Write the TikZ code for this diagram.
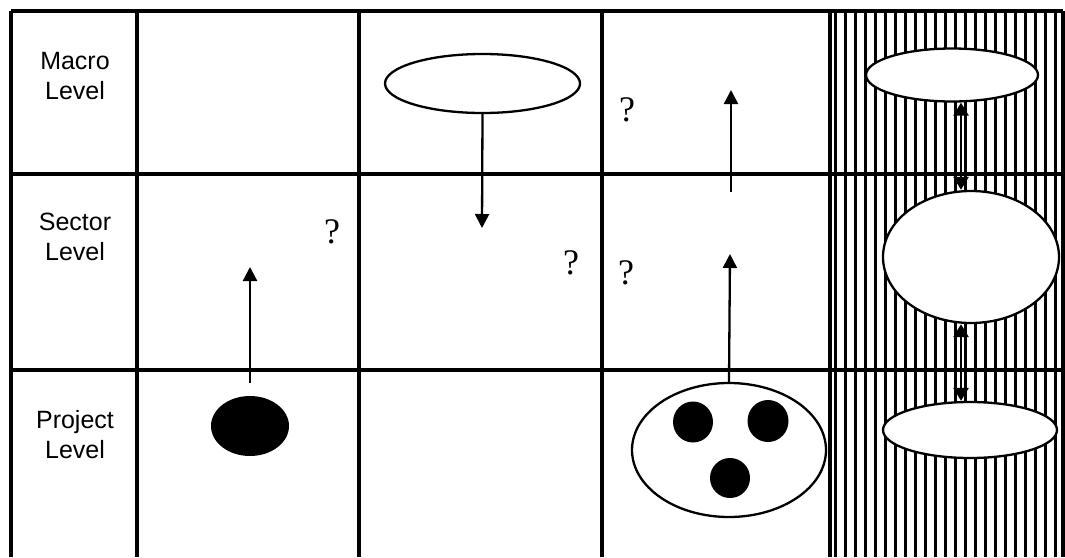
\documentclass[tikz,border=0pt]{standalone}
\usepackage{fontspec}
\setmainfont{Liberation Serif}
\newfontfamily\labfont{Liberation Sans}
\usetikzlibrary{shapes.geometric,arrows.meta}
\tikzset{
  gridline/.style={line width=3.4pt},
  hatchline/.style={line width=2.4pt},
  outline/.style={ellipse, draw, line width=2.3pt, fill=white, inner sep=0pt},
  blob/.style={ellipse, fill=black, inner sep=0pt},
  arr/.style={line width=2.3pt, -{Triangle[length=14pt,width=14pt]}},
  dbl/.style={line width=2.6pt, {Triangle[length=13pt,width=15pt]}-{Triangle[length=13pt,width=15pt]}},
  levlabel/.style={align=center, font=\labfont\fontsize{25}{30}\selectfont},
  qmark/.style={font=\fontsize{36}{40}\selectfont, inner sep=0pt}
}
\begin{document}
\begin{tikzpicture}[x=1pt,y=-1pt]
\useasboundingbox (0,0) rectangle (1065,557);
% hatching in last column
\foreach \i in {0,...,22} {
  \draw[hatchline] ({835.5+\i*10},11) -- ({835.5+\i*10},557);
}
% grid
\draw[gridline] (11,11) -- (1063,11);
\draw[gridline] (11,174) -- (1063,174);
\draw[gridline] (11,370) -- (1063,370);
\foreach \x in {11,137,359,602,830,1063} {
  \draw[gridline] (\x,11) -- (\x,557);
}
% row labels
\node[levlabel] (lmacro) at (75,76) {Macro\\Level};
\node[levlabel] (lsector) at (75,237) {Sector\\Level};
\node[levlabel] (lproject) at (75,435) {Project\\Level};
% column 1
\node[blob, minimum width=78pt, minimum height=60pt] (dot1) at (250,426) {};
\coordinate (t1) at (250,267);
\draw[arr] ([yshift=13pt]dot1.north) -- (t1);
\node[qmark] (q1) at (332,232) {?};
% column 2
\node[outline, minimum width=195pt, minimum height=59pt] (e2) at (482.5,83.5) {};
\coordinate (t2) at (482,228);
\draw[arr] (e2.south) -- (t2);
\node[qmark] (q2) at (571,263) {?};
% column 3
\node[outline, minimum width=194pt, minimum height=134pt] (e3) at (729,450) {};
\node[blob, minimum width=40pt, minimum height=41pt] (d3a) at (693,422) {};
\node[blob, minimum width=41pt, minimum height=42pt] (d3b) at (768,421) {};
\node[blob, minimum width=40pt, minimum height=40pt] (d3c) at (730,478) {};
\coordinate (t3) at (730,254);
\draw[arr] (e3.north) -- (t3);
\coordinate (s4) at (731,192);
\coordinate (t4) at (731,90);
\draw[arr] (s4) -- (t4);
\node[qmark] (q3) at (626,273) {?};
\node[qmark] (q4) at (627,110) {?};
% column 4 (hatched)
\node[outline, minimum width=172pt, minimum height=53pt] (e5a) at (952,75) {};
\node[outline, minimum width=176pt, minimum height=132pt] (e5b) at (971,257) {};
\node[outline, minimum width=174pt, minimum height=56pt] (e5c) at (970,430) {};
\coordinate (dx) at (961,0);
\draw[dbl] (e5a.south -| dx) -- (e5b.north -| dx);
\draw[dbl] (e5b.south -| dx) -- (e5c.north -| dx);
\end{tikzpicture}
\end{document}
